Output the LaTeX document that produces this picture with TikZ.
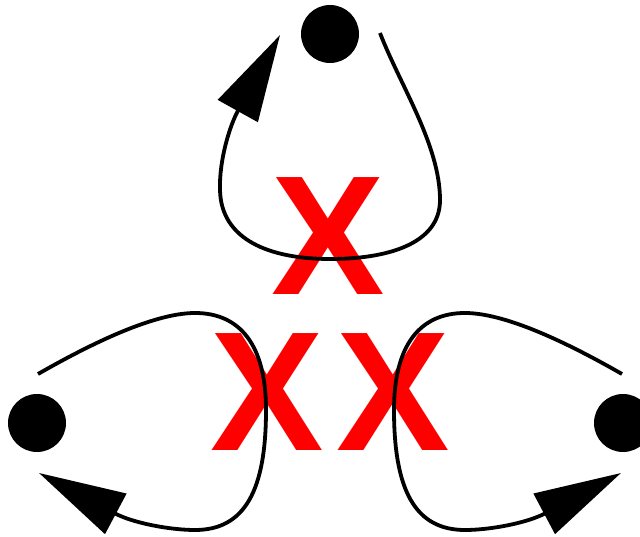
\documentclass[tikz,border=0pt]{standalone}
\usepackage{fontspec}
\setmainfont{Liberation Sans}
\usetikzlibrary{arrows.meta}
\begin{document}
\begin{tikzpicture}[x=1pt,y=-1pt,
  dot/.style={circle,fill=black,minimum size=58pt,inner sep=0pt},
  loopline/.style={line width=3.8pt,-{Triangle[length=87pt,width=45pt]}},
  cross/.style={text=red,inner sep=0pt,anchor=base,font=\fontsize{170}{170}\selectfont\bfseries}]
\useasboundingbox (0,0) rectangle (640,537);
\clip (0,0) rectangle (640,537);
% dots
\node[dot] (top) at (330,34) {};
\node[dot] (left) at (37,423) {};
\node[dot] (right) at (623,423) {};
% crosses
\node[cross] (xt) at (328.5,295) {X};
\node[cross] (xl) at (267,450) {X};
\node[cross] (xr) at (393,450) {X};
% loop ends
\coordinate (ts) at (380,33);
\coordinate (tt) at (280,35);
\coordinate (ls) at (38,374);
\coordinate (lt) at (39,473);
\coordinate (rs) at (622,374);
\coordinate (rt) at (621,473);
% loops
\draw[loopline] (ts) .. controls (400,85) and (440,145) .. (440,200)
  .. controls (440,245) and (385,259) .. (330,259)
  .. controls (270,259) and (221,240) .. (220,190)
  .. controls (219,160) and (230,125) .. (tt);
\draw[loopline] (ls) .. controls (80,350) and (150,313) .. (195,313)
  .. controls (240,313) and (266,345) .. (266,410)
  .. controls (266,490) and (245,530) .. (195,530)
  .. controls (170,530) and (133,523) .. (lt);
\draw[loopline] (rs) .. controls (580,350) and (510,313) .. (465,313)
  .. controls (420,313) and (394,345) .. (394,410)
  .. controls (394,490) and (415,530) .. (465,530)
  .. controls (490,530) and (527,523) .. (rt);
\end{tikzpicture}
\end{document}
